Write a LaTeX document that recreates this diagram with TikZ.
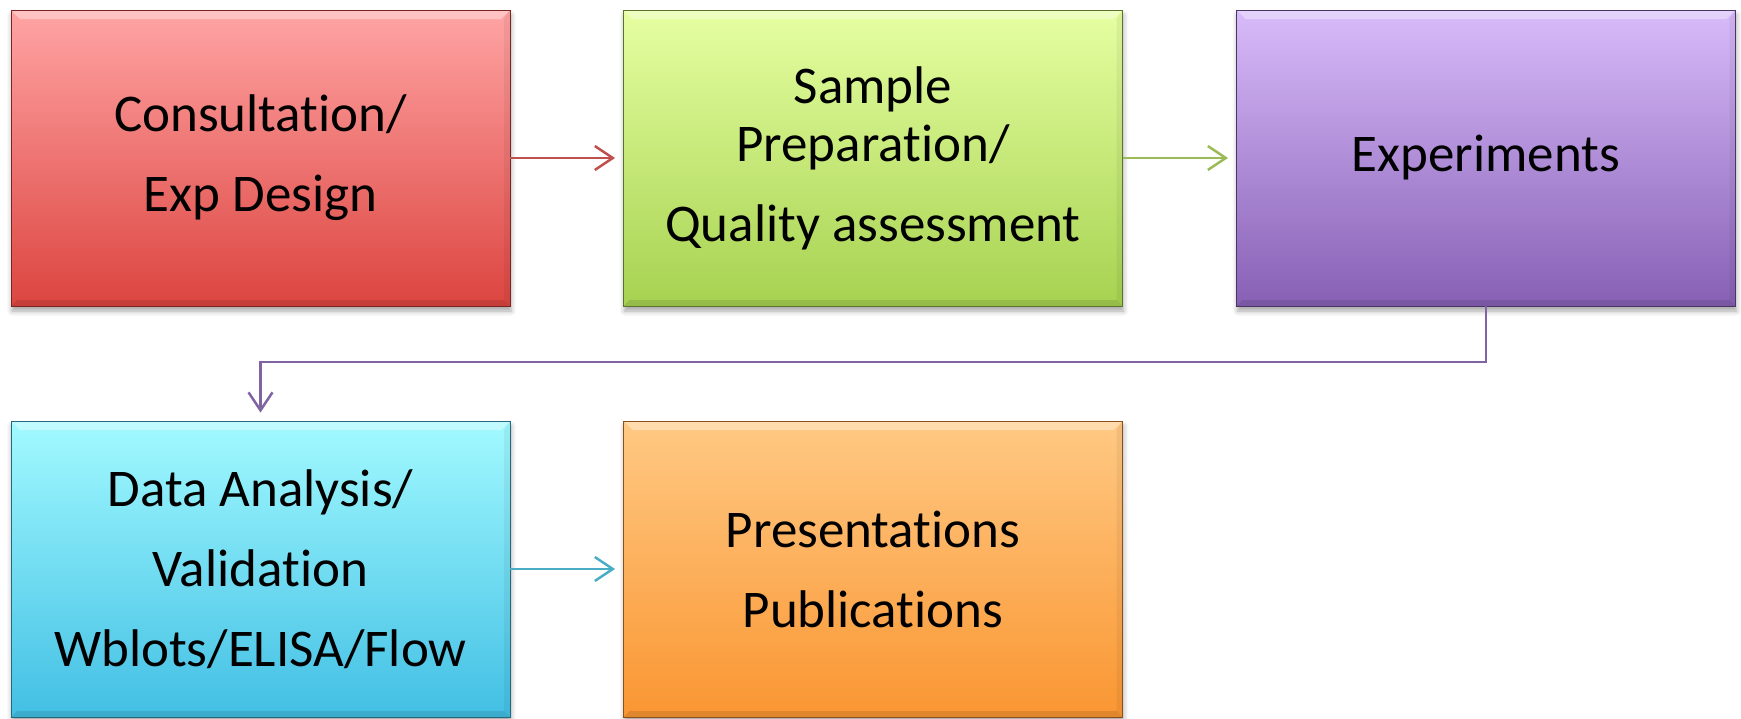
\documentclass[tikz,border=0pt]{standalone}
\usepackage{fontspec}
\setmainfont{Carlito}[Ligatures={NoCommon,NoRequired,NoContextual}]
\usetikzlibrary{arrows.meta,shadows.blur}
% "t" followed by "i" set as two separate glyphs
\newcommand{\tsep}{t\kern0pt i}

% box fill gradients (top / bottom)
\definecolor{redTop}{HTML}{FFA4A4}
\definecolor{redBot}{HTML}{DC4540}
\definecolor{grnTop}{HTML}{E6FFA2}
\definecolor{grnBot}{HTML}{A6D250}
\definecolor{purTop}{HTML}{D8BBFA}
\definecolor{purBot}{HTML}{8760B5}
\definecolor{cyaTop}{HTML}{A2FAFF}
\definecolor{cyaBot}{HTML}{42BFE4}
\definecolor{orgTop}{HTML}{FFC984}
\definecolor{orgBot}{HTML}{FA9632}
% connector colours
\definecolor{redLine}{HTML}{C0504D}
\definecolor{grnLine}{HTML}{9BBB59}
\definecolor{purLine}{HTML}{8064A2}
\definecolor{cyaLine}{HTML}{4BACC6}

\tikzset{
  stepbox/.style n args={2}{
    rectangle, minimum width=499pt, minimum height=296pt,
    top color=#1, bottom color=#2, draw=#2!55!black, line width=0.8pt,
    blur shadow={shadow xshift=1pt, shadow yshift=-5pt,
                 shadow blur radius=5pt, shadow opacity=35},
    align=center, font=\fontsize{53}{80}\selectfont, text=black,
    path picture={
      % bevel: light band along the top, darker band along the bottom
      \fill[white, opacity=0.35]
        (path picture bounding box.north west) --
        (path picture bounding box.north east) --
        ([xshift=-9pt,yshift=-9pt]path picture bounding box.north east) --
        ([xshift=9pt,yshift=-9pt]path picture bounding box.north west) -- cycle;
      \fill[black, opacity=0.10]
        (path picture bounding box.south west) --
        (path picture bounding box.south east) --
        ([xshift=-6pt,yshift=6pt]path picture bounding box.south east) --
        ([xshift=6pt,yshift=6pt]path picture bounding box.south west) -- cycle;
      \fill[black, opacity=0.05]
        (path picture bounding box.south east) --
        (path picture bounding box.north east) --
        ([xshift=-6pt,yshift=-9pt]path picture bounding box.north east) --
        ([xshift=-6pt,yshift=6pt]path picture bounding box.south east) -- cycle;
    }
  },
  flow/.style={line width=2.5pt, -{Straight Barb[length=18pt,width=24pt,line width=2.5pt]},
               shorten >=8pt}
}

\begin{document}
\begin{tikzpicture}[x=1pt,y=-1pt]
  \useasboundingbox (0,0) rectangle (1741,718);

  % process steps
  \node[stepbox={redTop}{redBot}] (consult) at (260.5,158) {Consulta\tsep on/\\Exp Design};
  \node[stepbox={grnTop}{grnBot}] (prep)    at (873,158)   {Sample\\[-22pt]Prepara\tsep on/\\Quality assessment};
  \node[stepbox={purTop}{purBot}] (exper)   at (1486,158)  {Experiments};
  \node[stepbox={cyaTop}{cyaBot}] (data)    at (260.5,569) {Data Analysis/\\Valida\tsep on\\Wblots/ELISA/Flow};
  \node[stepbox={orgTop}{orgBot}] (pres)    at (873,569)   {Presenta\tsep ons\\Publica\tsep ons};

  % connectors
  \draw[flow, redLine] (consult.east) -- (prep.west);
  \draw[flow, grnLine] (prep.east) -- (exper.west);
  \coordinate (bend) at (0,362);
  \draw[flow, purLine] (exper.south) |- (bend -| data.north) -- (data.north);
  \draw[flow, cyaLine] (data.east) -- (pres.west);
\end{tikzpicture}
\end{document}
